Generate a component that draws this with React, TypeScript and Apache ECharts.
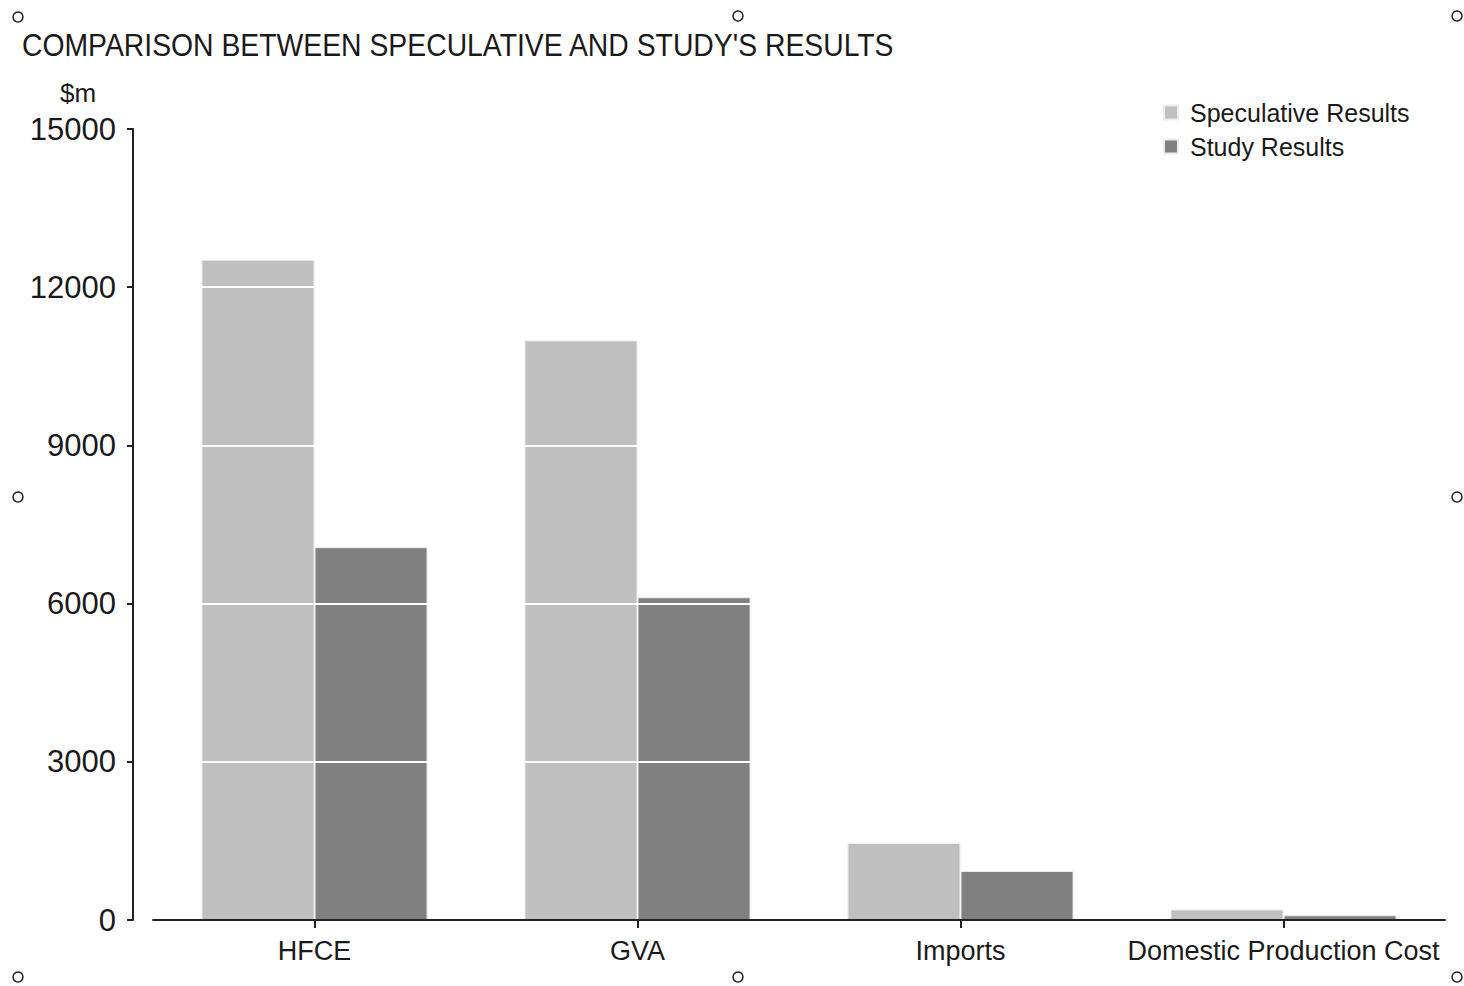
import React, { useEffect, useRef } from "react";
import * as echarts from "echarts";

const categories = ["HFCE", "GVA", "Imports", "Domestic Production Cost"];
const speculativeResults = [12520, 10990, 1460, 200];
const studyResults = [7070, 6120, 930, 90];
const seriesNames = ["Speculative Results", "Study Results"];
const yTicks = { min: 0, max: 15000, interval: 3000 };
const titleText = "COMPARISON BETWEEN SPECULATIVE AND STUDY'S RESULTS";
const unitText = "$m";

const handles = [
  [18, 17], [738, 16], [1457, 16],
  [18, 497], [1457, 497],
  [18, 977], [738, 977], [1457, 977],
];

export default function App() {
  const ref = useRef<HTMLDivElement>(null);
  useEffect(() => {
    document.body.style.margin = "0";
    const chart = echarts.init(ref.current!, null, { renderer: "svg" });
    const textColor = "#1a1a1a";
    const font = "'Liberation Sans', Arial, sans-serif";
    chart.setOption({
      animation: false,
      backgroundColor: "#ffffff",
      legend: {
        orient: "vertical",
        left: 1158,
        top: 95,
        icon: "rect",
        itemWidth: 14,
        itemHeight: 14,
        itemGap: 9,
        textStyle: {
          fontFamily: font,
          fontSize: 25,
          color: textColor,
          padding: [0, 0, 0, 7],
        },
        data: seriesNames,
      },
      grid: { left: 153, right: 19, top: 129, bottom: 66 },
      xAxis: {
        type: "category",
        data: categories,
        z: 6,
        axisLine: { show: true, lineStyle: { color: "#222", width: 2 } },
        axisTick: {
          show: true,
          interval: 0,
          alignWithLabel: true,
          length: 8,
          lineStyle: { color: "#222", width: 2 },
        },
        axisLabel: {
          interval: 0,
          margin: 17,
          fontFamily: font,
          fontSize: 27,
          color: textColor,
        },
      },
      yAxis: {
        type: "value",
        min: yTicks.min,
        max: yTicks.max,
        interval: yTicks.interval,
        offset: 20,
        z: 5,
        axisLine: { show: true, lineStyle: { color: "#222", width: 2 } },
        axisTick: { show: true, length: 6, lineStyle: { color: "#222", width: 2 } },
        axisLabel: {
          margin: 17,
          fontFamily: font,
          fontSize: 31,
          color: textColor,
          formatter: (v: number) => String(v),
        },
        splitLine: { show: true, lineStyle: { color: "#ffffff", width: 2 } },
      },
      graphic: [
        {
          type: "text",
          x: 22,
          y: 45,
          scaleX: 0.886,
          style: {
            text: titleText,
            fontFamily: font,
            fontSize: 32,
            fill: textColor,
            textAlign: "left",
            textVerticalAlign: "middle",
          },
        },
        {
          type: "text",
          x: 78,
          y: 93,
          style: {
            text: unitText,
            fontFamily: font,
            fontSize: 26,
            fill: textColor,
            textAlign: "center",
            textVerticalAlign: "middle",
          },
        },
        ...handles.map(([x, y]) => ({
          type: "circle",
          shape: { cx: x, cy: y, r: 5 },
          style: { fill: "#fff", stroke: "#222", lineWidth: 1.5 },
          z: 100,
        })),
      ],
      series: [
        {
          name: seriesNames[0],
          type: "bar",
          data: speculativeResults,
          barGap: "0%",
          barCategoryGap: "30%",
          itemStyle: { color: "#bfbfbf", borderColor: "#ececec", borderWidth: 1 },
        },
        {
          name: seriesNames[1],
          type: "bar",
          data: studyResults,
          itemStyle: { color: "#808080", borderColor: "#ececec", borderWidth: 1 },
        },
      ],
    });
    return () => chart.dispose();
  }, []);
  return <div ref={ref} style={{ width: 1464, height: 986 }} />;
}
